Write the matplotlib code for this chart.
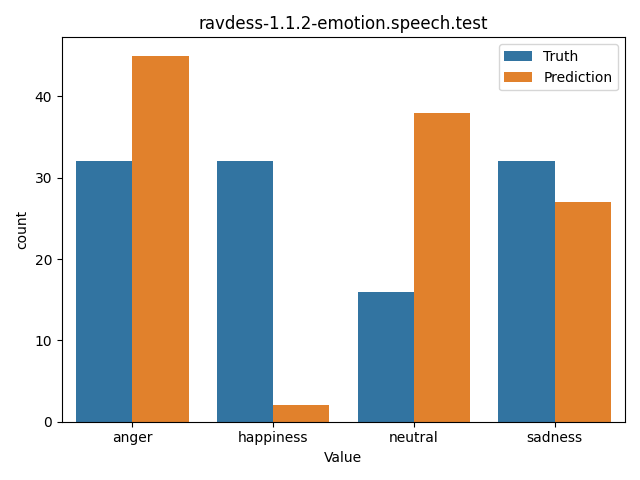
import pandas as pd
import seaborn as sns
import matplotlib
matplotlib.use("Agg")
import matplotlib.pyplot as plt

categories = ["anger", "happiness", "neutral", "sadness"]
truth = [32, 32, 16, 32]
prediction = [45, 2, 38, 27]

df = pd.DataFrame({
    "Value": categories * 2,
    "count": truth + prediction,
    "type": ["Truth"] * 4 + ["Prediction"] * 4,
})

fig, ax = plt.subplots(figsize=(6.4, 4.8), dpi=100)
sns.barplot(data=df, x="Value", y="count", hue="type", ax=ax)
ax.legend(title=None)
ax.set_title("ravdess-1.1.2-emotion.speech.test")
plt.tight_layout()
plt.savefig("out.png")
